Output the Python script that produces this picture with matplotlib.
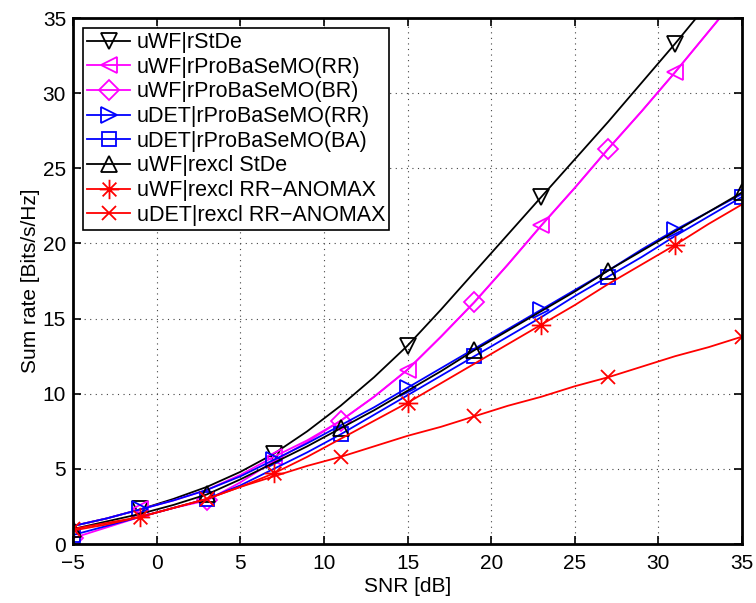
import numpy as np
import matplotlib
matplotlib.use("Agg")
import matplotlib.pyplot as plt
from matplotlib.path import Path

plt.rcParams['font.family'] = ['Liberation Sans', 'DejaVu Sans']

# SNR grid (dB) and sum rates per scheme
snr = [-5, -3, -1, 1, 3, 5, 7, 9, 11, 13, 15, 17, 19, 21, 23, 25, 27, 29, 31, 33, 35]

uwf_rstde = [1.2, 1.7, 2.3, 3.0, 3.8, 4.8, 6.0, 7.5, 9.2, 11.1, 13.2, 15.6, 18.1, 20.6,
             23.1, 25.6, 28.1, 30.7, 33.3, 36.0, 38.7]
uwf_rr = [1.2, 1.7, 2.3, 2.9, 3.6, 4.6, 5.8, 6.9, 8.2, 9.8, 11.6, 13.8, 16.1, 18.6,
          21.2, 23.7, 26.3, 28.8, 31.4, 34.1, 36.8]
uwf_br = [0.4, 1.1, 1.8, 2.4, 2.9, 4.1, 5.5, 6.8, 8.2, 9.8, 11.6, 13.8, 16.1, 18.6,
          21.2, 23.7, 26.3, 28.8, 31.4, 34.1, 36.8]
udet_rr = [1.2, 1.7, 2.3, 2.9, 3.6, 4.5, 5.6, 6.7, 7.9, 9.1, 10.4, 11.7, 13.0, 14.3,
           15.6, 16.9, 18.2, 19.6, 20.9, 22.1, 23.3]
udet_ba = [0.6, 1.2, 1.8, 2.4, 3.0, 3.9, 5.0, 6.1, 7.3, 8.6, 9.9, 11.2, 12.5, 13.8,
           15.1, 16.5, 17.8, 19.1, 20.5, 21.8, 23.1]
uwf_excl = [1.0, 1.5, 2.0, 2.6, 3.3, 4.3, 5.4, 6.5, 7.7, 8.9, 10.2, 11.5, 12.9, 14.2,
            15.5, 16.8, 18.2, 19.5, 20.8, 22.1, 23.4]
uwf_anomax = [0.9, 1.3, 1.8, 2.4, 3.0, 3.8, 4.7, 5.8, 7.0, 8.2, 9.4, 10.7, 12.0, 13.3,
              14.6, 15.9, 17.3, 18.6, 19.9, 21.3, 22.6]
udet_anomax = [1.0, 1.4, 1.8, 2.4, 3.0, 3.8, 4.5, 5.2, 5.8, 6.5, 7.2, 7.8, 8.5, 9.2,
               9.8, 10.5, 11.1, 11.8, 12.5, 13.1, 13.8]

# MATLAB-style asterisk: plus and cross strokes together
d = 0.7071
asterisk = Path(
    [(-1, 0), (1, 0), (0, -1), (0, 1), (-d, -d), (d, d), (-d, d), (d, -d)],
    [Path.MOVETO, Path.LINETO] * 4,
)

series = [
    (uwf_rstde, 'k', 'v', (2, 4), 12, 'uWF|rStDe'),
    (uwf_rr, '#ff00ff', '<', (2, 4), 12, 'uWF|rProBaSeMO(RR)'),
    (uwf_br, '#ff00ff', 'D', (0, 4), 10, 'uWF|rProBaSeMO(BR)'),
    (udet_rr, '#0000ff', '>', (2, 4), 12, 'uDET|rProBaSeMO(RR)'),
    (udet_ba, '#0000ff', 's', (0, 4), 10, 'uDET|rProBaSeMO(BA)'),
    (uwf_excl, 'k', '^', (0, 4), 12, 'uWF|rexcl StDe'),
    (uwf_anomax, '#ff0000', asterisk, (2, 4), 14, 'uWF|rexcl RR\u2212ANOMAX'),
    (udet_anomax, '#ff0000', 'x', (0, 4), 10, 'uDET|rexcl RR\u2212ANOMAX'),
]

fig = plt.figure(figsize=(7.56, 6.03), dpi=100)
ax = fig.add_axes([0.0966, 0.0978, 0.8849, 0.8722])

for vals, col, mk, every, ms, lab in series:
    ax.plot(snr, vals, color=col, marker=mk, markevery=every, lw=1.3,
            ms=ms, mfc='none', mec=col, mew=1.3, label=lab)

ax.set_xlim(-5, 35)
ax.set_ylim(0, 35)
ax.set_xticks(np.arange(-5, 36, 5))
ax.set_yticks(np.arange(0, 36, 5))
ax.grid(True, color='#444444', linestyle=(0, (1, 4)), linewidth=0.8)
ax.tick_params(direction='in', top=True, right=True, length=6, width=1.2,
               labelsize=15)
ax.tick_params(axis='x', pad=7)
ax.tick_params(axis='y', pad=5)
for sp in ax.spines.values():
    sp.set_linewidth(2)

ax.set_xlabel('SNR [dB]', fontsize=15, labelpad=3)
ax.set_ylabel('Sum rate [Bits/s/Hz]', fontsize=15, labelpad=2)

leg = ax.legend(loc='upper left', fontsize=15.5, frameon=True, fancybox=False,
                edgecolor='k', framealpha=1, borderaxespad=0.45, handlelength=2.0,
                labelspacing=0.17, borderpad=0.2, handletextpad=0.3)
leg.get_frame().set_linewidth(1.2)

fig.savefig('out.png', dpi=100)
